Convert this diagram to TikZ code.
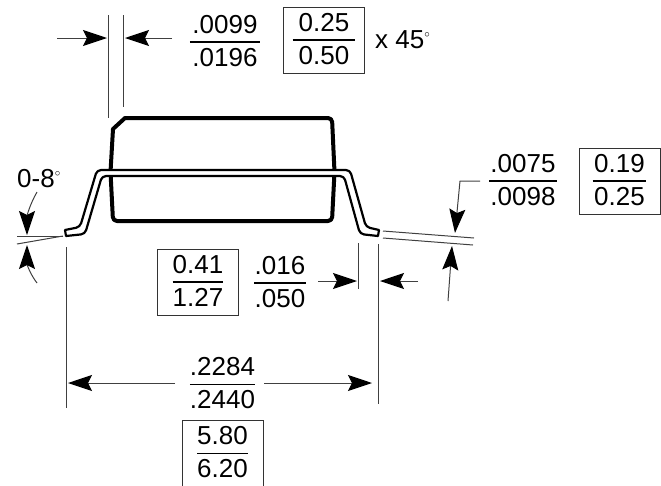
\documentclass[tikz,border=0pt]{standalone}
\usepackage{fontspec}
\usepackage{array}
\setmainfont{Liberation Sans}
\usetikzlibrary{arrows.meta}
\setlength{\extrarowheight}{4.8pt}
\setlength{\arrayrulewidth}{1.3pt}
\newcommand{\dimfrac}[3][0pt]{\begin{tabular}{@{\hspace{#1}}c@{\hspace{#1}}}#2\\\hline #3\end{tabular}}
\newcommand{\dimdeg}{\raisebox{11pt}{\fontsize{11}{11}\selectfont$\circ$}}
\tikzset{
    dimtext/.style={inner sep=0pt, font=\fontsize{26}{26.7}\selectfont},
    dimbox/.style={dimtext, draw=black!80, line width=1pt, minimum width=81pt, minimum height=66pt},
    dimline/.style={line width=1pt, black!75},
    dimarrow/.style={dimline, -{Stealth[length=24pt, width=16pt, inset=4pt, black]}},
    bodyline/.style={line width=4pt, line join=round},
    leadline/.style={line width=2.2pt, line join=round, fill=white}
}

\begin{document}
\begin{tikzpicture}[x=1pt, y=-1pt]
    \useasboundingbox (0,0) rectangle (661,485);

    % package outline
    \draw[bodyline] (113,129) -- (125,118) [rounded corners=4pt] -- (332,118) -- (334.5,172) -- (332,221) -- (113,221) -- (110.5,172) [sharp corners] -- cycle;

    % lead frame
    \draw[leadline] (65,230) [rounded corners=4pt] -- (80,227) -- (97,170) -- (350,170) -- (366,227) [sharp corners] -- (379,230) -- (378,236) [rounded corners=4pt] -- (360,234) -- (344,176) -- (102,176) -- (85,234) [sharp corners] -- (66,236) -- cycle;

    % top dimension
    \coordinate (topleft) at (57,38);
    \coordinate (topright) at (172,38);
    \coordinate (wleft) at (107,38);
    \coordinate (wright) at (125,38);
    \draw[dimline] (108,15) -- (108,118);
    \draw[dimline] (123.5,15) -- (123.5,107);
    \draw[dimarrow] (topleft) -- (wleft);
    \draw[dimarrow] (topright) -- (wright);
    \node[dimtext] (chamferin) at (225,42) {\dimfrac[2.5pt]{.0099}{.0196}};
    \node[dimbox] (chamfermm) at (324,40) {\dimfrac[6pt]{0.25}{0.50}};
    \node[dimtext, anchor=west] (chamferangle) at (375,40) {x 45\dimdeg};

    % angle
    \node[dimtext, anchor=west] (anglelabel) at (17,179) {0-8\dimdeg};
    \coordinate (angleup) at (37,192);
    \coordinate (angletop) at (27,235);
    \coordinate (angledown) at (37,283);
    \coordinate (anglebot) at (27,245);
    \draw[dimline] (17,236) -- (63,236);
    \draw[dimline] (17,244) -- (63,236);
    \draw[dimarrow] (angleup) .. controls (30,204) and (27,216) .. (angletop);
    \draw[dimarrow] (angledown) .. controls (30,274) and (27,264) .. (anglebot);

    % lead length
    \node[dimbox] (footmm) at (198,282) {\dimfrac{0.41}{1.27}};
    \node[dimtext] (footin) at (280,283) {\dimfrac[0.7pt]{.016}{.050}};
    \coordinate (footleft) at (318,281);
    \coordinate (footright) at (418,281);
    \coordinate (extin) at (357,281);
    \coordinate (extout) at (380,281);
    \draw[dimline] (358,243) -- (358,289);
    \draw[dimarrow] (footleft) -- (extin);
    \draw[dimarrow] (footright) -- (extout);

    % overall width
    \node[dimtext] (widthin) at (222.5,384.5) {\dimfrac{.2284}{.2440}};
    \node[dimbox] (widthmm) at (222.5,453.5) {\dimfrac{5.80}{6.20}};
    \coordinate (widthleft) at (68,383);
    \coordinate (widthright) at (372,383);
    \draw[dimline] (66,247) -- (66,408);
    \draw[dimline] (378,244) -- (378,404);
    \draw[dimarrow] (175,383) -- (widthleft);
    \draw[dimarrow] (264,383) -- (widthright);

    % lead thickness
    \node[dimtext] (thickin) at (523,181) {\dimfrac[1pt]{.0075}{.0098}};
    \node[dimbox] (thickmm) at (619.5,181) {\dimfrac[1.5pt]{0.19}{0.25}};
    \coordinate (thicktop) at (455,233);
    \coordinate (thickbot) at (452,246);
    \draw[dimline] (383,231) -- (474,238);
    \draw[dimline] (383,238) -- (473,245);
    \draw[dimarrow] (480,181) -- (460,181) -- (thicktop);
    \draw[dimarrow] (448,301) -- (thickbot);
\end{tikzpicture}
\end{document}
